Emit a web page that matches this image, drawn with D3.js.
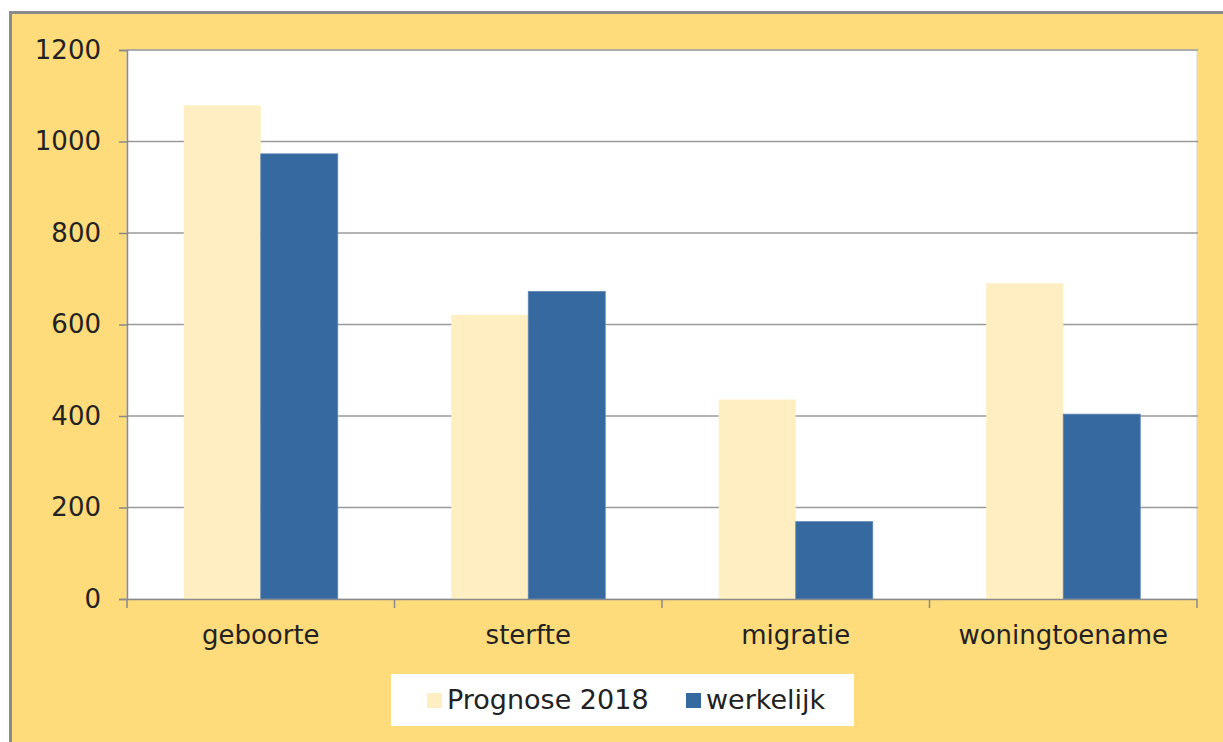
<!DOCTYPE html>
<html>
<head>
<meta charset="utf-8">
<script src="https://cdn.jsdelivr.net/npm/d3@7"></script>
<style>
    body { margin: 0; background: #fff; }
    text { font-family: "DejaVu Sans", Verdana, sans-serif; fill: #222; }
</style>
</head>
<body>
<div id="chart"></div>
<script>
const categories = ["geboorte", "sterfte", "migratie", "woningtoename"]
const series = ["Prognose 2018", "werkelijk"]
const prognose = [1079, 621, 436, 690]
const werkelijk = [973, 672, 169, 404]
const yTicks = [0, 200, 400, 600, 800, 1000, 1200]

const colors = { "Prognose 2018": "#FEEEC1", "werkelijk": "#35699F" }

const width = 1223
const height = 742
const plot = { left: 127, right: 1197, top: 50, bottom: 599 }

const svg = d3.select("#chart").append("svg").attr("width", width).attr("height", height)

// chart box
svg.append("rect").attr("x", 10.5).attr("y", 12.5).attr("width", width).attr("height", height)
    .attr("fill", "#FEDB7B").attr("stroke", "#8a8a8a").attr("stroke-width", 3)

svg.append("rect").attr("x", plot.left).attr("y", plot.top)
    .attr("width", plot.right - plot.left).attr("height", plot.bottom - plot.top)
    .attr("fill", "#fff").attr("stroke", "#d8d8d8").attr("stroke-width", 1)

const x0 = d3.scaleBand().domain(categories).range([plot.left, plot.right]).padding(0)
const x1 = d3.scaleBand().domain(series).range([0, x0.bandwidth()]).paddingInner(0).paddingOuter(0.737)
const y = d3.scaleLinear().domain([0, 1200]).range([plot.bottom, plot.top])

// gridlines
svg.append("g").selectAll("line").data(yTicks.filter(d => d > 0)).enter().append("line")
    .attr("x1", plot.left).attr("x2", plot.right + 1)
    .attr("y1", d => y(d)).attr("y2", d => y(d))
    .attr("stroke", "#9a9a9a").attr("stroke-width", 1.5)

// bars
const rows = categories.map((c, i) => ({ cat: c, values: [
    { key: "Prognose 2018", value: prognose[i] },
    { key: "werkelijk", value: werkelijk[i] }
]}))

const groups = svg.append("g").selectAll("g").data(rows).enter().append("g")
    .attr("transform", d => `translate(${x0(d.cat)},0)`)

groups.selectAll("rect").data(d => d.values).enter().append("rect")
    .attr("x", d => x1(d.key)).attr("width", x1.bandwidth())
    .attr("y", d => y(d.value)).attr("height", d => y(0) - y(d.value))
    .attr("fill", d => colors[d.key])
    .attr("stroke", d => d.key == "werkelijk" ? "#5b84b3" : "none").attr("stroke-width", 0.8)

// y axis
const yAxis = svg.append("g").attr("transform", `translate(${plot.left},0)`)
    .call(d3.axisLeft(y).tickValues(yTicks).tickFormat(d3.format("d")).tickSize(8).tickPadding(18))
yAxis.select(".domain").attr("stroke", "#8a8a8a").attr("stroke-width", 1.5)
yAxis.selectAll(".tick line").attr("stroke", "#8a8a8a").attr("stroke-width", 1.5)
yAxis.selectAll("text").style("font-size", "26px").attr("fill", "#222")

// x axis
const xAxis = svg.append("g").attr("transform", `translate(0,${plot.bottom})`)
    .call(d3.axisBottom(x0).tickSize(0).tickPadding(27))
xAxis.select(".domain").attr("stroke", "#8a8a8a").attr("stroke-width", 1.5)
xAxis.selectAll("text").style("font-size", "26px").attr("fill", "#222")

const bounds = categories.map(c => x0(c)).concat([x0(categories[categories.length - 1]) + x0.bandwidth()])
svg.append("g").selectAll("line").data(bounds).enter().append("line")
    .attr("x1", d => d).attr("x2", d => d)
    .attr("y1", plot.bottom).attr("y2", plot.bottom + 9)
    .attr("stroke", "#8a8a8a").attr("stroke-width", 1.5)

// legend
const legend = svg.append("g")
legend.append("rect").attr("x", 391).attr("y", 674).attr("width", 463).attr("height", 52).attr("fill", "#fff")

const legendX = [427, 686]
const items = legend.selectAll("g").data(series).enter().append("g")
    .attr("transform", (d, i) => `translate(${legendX[i]},693)`)
items.append("rect").attr("width", 15).attr("height", 15).attr("fill", d => colors[d])
items.append("text").attr("x", 20).attr("y", 16).style("font-size", "27px").text(d => d)
</script>
</body>
</html>
